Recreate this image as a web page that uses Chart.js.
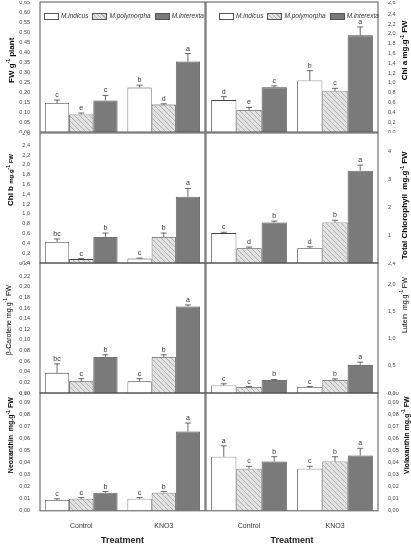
<!DOCTYPE html>
<html><head><meta charset="utf-8">
<script src="https://cdn.jsdelivr.net/npm/chart.js@4.4.0/dist/chart.umd.min.js"></script>
<style>
body{margin:0;background:#fff;font-family:"Liberation Sans",Arial,sans-serif}
#wrap{position:relative;width:411px;height:550px}
canvas{position:absolute}
.yt{position:absolute;font-weight:bold;font-size:8px;white-space:nowrap;transform:rotate(-90deg);transform-origin:center}
.leg{position:absolute;font-size:6.5px;font-style:italic;display:flex;gap:4px;align-items:center;color:#333}
.leg span.b{display:inline-block;width:13px;height:5px;border:1px solid #555;margin-right:2px;vertical-align:middle}
</style></head>
<body><div id="wrap"></div>
<script>
"use strict"
const categories = ['Control', 'KNO3']
const species = ['M.indicus', 'M.polymorpha', 'M.interexta']

// werte je panel: [control, kno3] pro art
const fwVals = [[0.145, 0.222], [0.088, 0.137], [0.158, 0.352]]
const fwErr = [[0.015, 0.012], [0.007, 0.004], [0.025, 0.04]]
const fwLet = [['c', 'b'], ['e', 'd'], ['c', 'a']]

const chlaVals = [[0.65, 1.05], [0.45, 0.84], [0.91, 1.97]]
const chlaErr = [[0.07, 0.2], [0.05, 0.05], [0.03, 0.17]]
const chlaLet = [['d', 'b'], ['e', 'c'], ['c', 'a']]

const chlbVals = [[0.43, 0.09], [0.08, 0.53], [0.53, 1.35]]
const chlbErr = [[0.06, 0.01], [0.01, 0.08], [0.08, 0.17]]
const chlbLet = [['bc', 'c'], ['c', 'b'], ['b', 'a']]

const totVals = [[1.07, 0.53], [0.53, 1.45], [1.45, 3.3]]
const totErr = [[0.03, 0.05], [0.04, 0.08], [0.05, 0.2]]
const totLet = [['c', 'd'], ['d', 'b'], ['b', 'a']]

const carVals = [[0.038, 0.022], [0.022, 0.068], [0.068, 0.163]]
const carErr = [[0.017, 0.005], [0.005, 0.004], [0.004, 0.003]]
const carLet = [['bc', 'c'], ['c', 'b'], ['b', 'a']]

const lutVals = [[0.14, 0.11], [0.11, 0.24], [0.24, 0.52]]
const lutErr = [[0.03, 0.01], [0.01, 0.02], [0.01, 0.05]]
const lutLet = [['c', 'c'], ['c', 'b'], ['b', 'a']]

const neoVals = [[0.009, 0.010], [0.010, 0.015], [0.015, 0.066]]
const neoErr = [[0.001, 0.001], [0.001, 0.001], [0.001, 0.007]]
const neoLet = [['c', 'c'], ['c', 'b'], ['b', 'a']]

const vioVals = [[0.045, 0.035], [0.035, 0.041], [0.041, 0.046]]
const vioErr = [[0.009, 0.002], [0.002, 0.004], [0.004, 0.006]]
const vioLet = [['a', 'c'], ['c', 'b'], ['b', 'a']]

const wrap = document.getElementById('wrap')

// schraffur für polymorpha
function hatch() {
    const c = document.createElement('canvas'); c.width = 5; c.height = 5
    const g = c.getContext('2d')
    g.fillStyle = '#e2e2e2'; g.fillRect(0, 0, 5, 5)
    g.strokeStyle = '#b0b0b0'; g.lineWidth = 1
    g.beginPath(); g.moveTo(0, 0); g.lineTo(5, 5); g.moveTo(-1, 4); g.lineTo(1, 6); g.moveTo(4, -1); g.lineTo(6, 1); g.stroke()
    return g.createPattern(c, 'repeat')
}
const fills = ['#ffffff', hatch(), '#7a7a7a']

// fehlerbalken, buchstaben, rahmen
const extras = {
    id: 'extras',
    afterDatasetsDraw(chart) {
        const ctx = chart.ctx, ys = chart.scales.y, a = chart.chartArea
        ctx.save()
        chart.data.datasets.forEach((ds, i) => {
            chart.getDatasetMeta(i).data.forEach((bar, j) => {
                const top = ys.getPixelForValue(ds.data[j] + ds.err[j])
                ctx.strokeStyle = '#444'; ctx.lineWidth = 0.8
                ctx.beginPath()
                ctx.moveTo(bar.x, bar.y); ctx.lineTo(bar.x, top)
                ctx.moveTo(bar.x - 3, top); ctx.lineTo(bar.x + 3, top)
                ctx.stroke()
                ctx.fillStyle = '#333'; ctx.font = '7px "Liberation Sans"'; ctx.textAlign = 'center'
                ctx.fillText(ds.letters[j], bar.x, top - 3)
            })
        })
        ctx.strokeStyle = '#555'; ctx.lineWidth = 1
        ctx.strokeRect(a.left, a.top, a.right - a.left, a.bottom - a.top)
        ctx.restore()
    }
}

function panel(opt) {
    const cv = document.createElement('canvas')
    cv.style.left = opt.left + 'px'; cv.style.top = opt.top + 'px'
    cv.style.width = opt.w + 'px'; cv.style.height = opt.h + 'px'
    cv.width = opt.w; cv.height = opt.h
    wrap.appendChild(cv)
    const right = opt.side === 'right'
    new Chart(cv, {
        type: 'bar',
        data: {
            labels: categories,
            datasets: species.map((s, i) => ({
                label: s, data: opt.vals[i], err: opt.err[i], letters: opt.lets[i],
                backgroundColor: fills[i], borderColor: '#444', borderWidth: 0.8,
                barPercentage: 1, categoryPercentage: 0.88
            }))
        },
        options: {
            responsive: false, animation: false,
            layout: { padding: { top: 1, bottom: opt.xlab ? 0 : 1, left: right ? 1 : 0, right: right ? 0 : 1 } },
            plugins: { legend: { display: false }, tooltip: { enabled: false } },
            scales: {
                x: {
                    display: !!opt.xlab, grid: { display: false }, border: { display: false },
                    ticks: { color: '#333', font: { size: 7 }, padding: 3 },
                    title: { display: !!opt.xlab, text: 'Treatment', color: '#222', font: { size: 9, weight: 'bold' }, padding: 2 }
                },
                y: {
                    position: opt.side, min: 0, max: opt.max,
                    grid: { display: false }, border: { display: false },
                    afterFit(s) { s.width = opt.axw; s.paddingTop = 0; s.paddingBottom = 0 },
                    ticks: {
                        stepSize: opt.step, autoSkip: false, color: '#444', font: { size: 5.5 }, padding: 2,
                        callback: v => opt.fmt(v)
                    }
                }
            }
        },
        plugins: [extras]
    })
}

const f2 = v => v.toFixed(2).replace('.', ','), f1 = v => v.toFixed(1).replace('.', ',')
const rows = [1, 132, 262, 392]
const H = 132
const L = { left: 0, w: 206, side: 'left', axw: 40 }
const R = { left: 205, w: 206, side: 'right', axw: 33 }
panel({ ...L, top: rows[0], h: H, vals: fwVals, err: fwErr, lets: fwLet, max: 0.65, step: 0.05, fmt: f2 })
panel({ ...R, top: rows[0], h: H, vals: chlaVals, err: chlaErr, lets: chlaLet, max: 2.65, step: 0.2, fmt: f1 })
panel({ ...L, top: rows[1], h: H, vals: chlbVals, err: chlbErr, lets: chlbLet, max: 2.65, step: 0.2, fmt: f1 })
panel({ ...R, top: rows[1], h: H, vals: totVals, err: totErr, lets: totLet, max: 4.65, step: 1, fmt: v => (v === 0 || v % 1) ? '' : String(v) })
panel({ ...L, top: rows[2], h: H, vals: carVals, err: carErr, lets: carLet, max: 0.245, step: 0.02, fmt: f2 })
panel({ ...R, top: rows[2], h: H, vals: lutVals, err: lutErr, lets: lutLet, max: 2.4, step: 0.5, fmt: f1 })
panel({ ...L, top: rows[3], h: 156, vals: neoVals, err: neoErr, lets: neoLet, max: 0.098, step: 0.01, fmt: f2, xlab: true })
panel({ ...R, top: rows[3], h: 156, vals: vioVals, err: vioErr, lets: vioLet, max: 0.098, step: 0.01, fmt: f2, xlab: true })

// achsentitel
function yTitle(html, cx, cy) {
    const d = document.createElement('div'); d.className = 'yt'; d.innerHTML = html
    wrap.appendChild(d)
    d.style.left = (cx - d.offsetWidth / 2) + 'px'; d.style.top = (cy - d.offsetHeight / 2) + 'px'
}
const sup = '<sup style="font-size:5px">-1</sup>'
yTitle('FW g' + sup + ' plant', 10, 60)
yTitle('Chl a mg.g' + sup + ' FW', 404, 50)
yTitle('Chl b <span style="font-size:6px">mg.g' + sup + ' FW</span>', 10, 180)
yTitle('Total Chlorophyll &nbsp;mg.g' + sup + ' FW', 404, 205)
yTitle('<span style="font-weight:normal;font-size:7px">β-Carotene mg.g' + sup + ' FW</span>', 8, 320)
yTitle('<span style="font-weight:normal;font-size:7px">Lutein &nbsp;mg.g' + sup + ' FW</span>', 404, 305)
yTitle('<span style="font-size:7px">Neoxanthin &nbsp;mg.g' + sup + ' FW</span>', 10, 435)
yTitle('<span style="font-size:7px">Violaxanthin mg.g' + sup + ' FW</span>', 405, 435)

// legenden
function legend(x, y) {
    const d = document.createElement('div'); d.className = 'leg'
    d.style.left = x + 'px'; d.style.top = y + 'px'
    const bg = ['#fff', 'repeating-linear-gradient(45deg,#b0b0b0 0 1px,#e2e2e2 1px 3px)', '#7a7a7a']
    d.innerHTML = species.map((s, i) => `<span><span class="b" style="background:${bg[i]}"></span>${s}</span>`).join('')
    wrap.appendChild(d)
}
legend(44, 12)
legend(219, 12)
</script></body></html>
